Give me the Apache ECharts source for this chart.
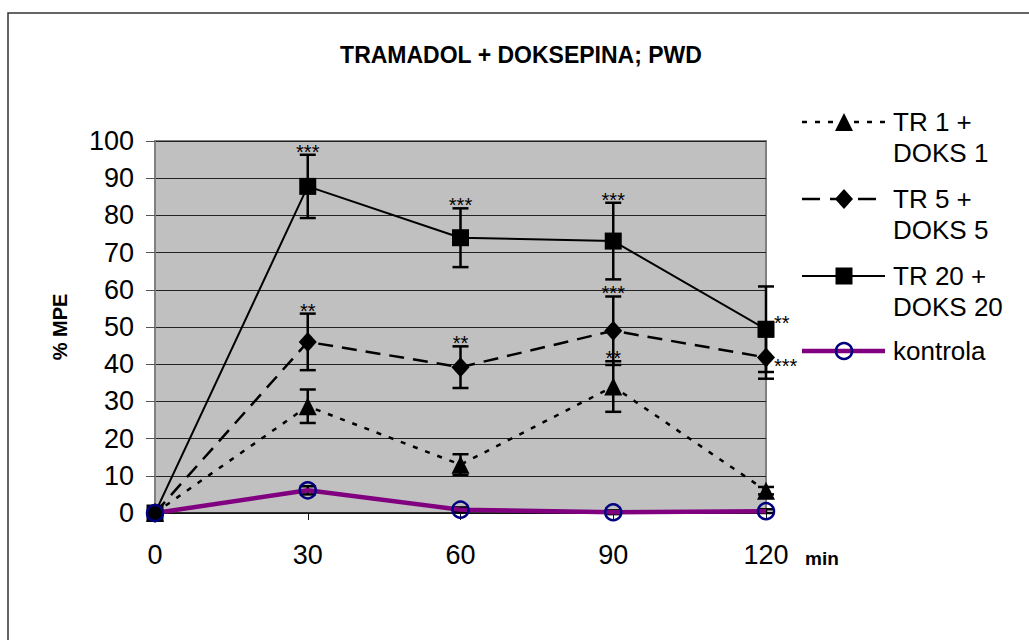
<!DOCTYPE html>
<html>
<head>
<meta charset="utf-8">
<title>TRAMADOL + DOKSEPINA; PWD</title>
<script src="https://cdn.jsdelivr.net/npm/echarts@6/dist/echarts.min.js"></script>
<style>
  html, body { margin: 0; padding: 0; background: #fff; }
  #chart { width: 1029px; height: 640px; }
</style>
</head>
<body>
<div id="chart"></div>
<script>
// Time points (min)
const times = [0, 30, 60, 90, 120];

// %MPE means and error half-widths per group
const tr1 = [0, 28.7, 13.0, 34.0, 6.0];
const tr1Err = [0, 4.5, 2.8, 6.8, 1.0];
const tr5 = [0, 46.0, 39.2, 49.0, 41.8];
const tr5Err = [0, 7.6, 5.6, 9.2, 5.7];
const tr20 = [0, 87.8, 74.0, 73.1, 49.4];
const tr20Err = [0, 8.5, 7.9, 10.3, 11.5];
const kontrola = [0, 6.1, 0.9, 0.2, 0.5];
const kontrolaErr = [0, 1.1, 0.6, 0.5, 0.5];

// Significance marks
const tr1Stars = ['', '', '', '**', ''];
const tr5Stars = ['', '**', '**', '***', '***'];
const tr20Stars = ['', '***', '***', '***', '**'];

// Tick labels
const yTicks = [0, 10, 20, 30, 40, 50, 60, 70, 80, 90, 100];
const xTicks = times;

const FONT = "'Liberation Sans', Arial, Helvetica, sans-serif";

const pts = (vals) => times.map((t, i) => [t, vals[i]]);
const errPts = (vals, errs) => times.map((t, i) => [t, vals[i], errs[i]]);

function errRender(params, api) {
  const x = api.value(0), v = api.value(1), e = api.value(2);
  if (!(e > 0)) return null;
  const hi = api.coord([x, v + e]);
  const lo = api.coord([x, v - e]);
  const cap = 8;
  const st = { stroke: '#000', lineWidth: 2.5 };
  return {
    type: 'group',
    children: [
      { type: 'line', shape: { x1: hi[0], y1: hi[1], x2: lo[0], y2: lo[1] }, style: st },
      { type: 'line', shape: { x1: hi[0] - cap, y1: hi[1], x2: hi[0] + cap, y2: hi[1] }, style: st },
      { type: 'line', shape: { x1: lo[0] - cap, y1: lo[1], x2: lo[0] + cap, y2: lo[1] }, style: st }
    ]
  };
}

// Stars sit above the upper error cap; on the last time point they go to the right of the marker
function starRender(stars, sideDy) {
  return function (params, api) {
    const s = stars[params.dataIndex];
    if (!s) return null;
    const x = api.value(0), v = api.value(1), e = api.value(2);
    const isLast = params.dataIndex === times.length - 1;
    let px, py, align;
    if (isLast) {
      const p = api.coord([x, v]);
      px = p[0] + 8; py = p[1] + sideDy + 5; align = 'left';
    } else {
      const p = api.coord([x, v + e]);
      px = p[0]; py = p[1] - 3; align = 'center';
    }
    return {
      type: 'text', x: px, y: py, z2: 10,
      style: {
        text: s, fontSize: 20, fontFamily: FONT, fill: '#000',
        align: align, textAlign: align, verticalAlign: 'middle', textVerticalAlign: 'middle'
      }
    };
  };
}

const errSeries = (vals, errs) => ({
  type: 'custom', renderItem: errRender, data: errPts(vals, errs),
  encode: { x: 0, y: 1 }, silent: true
});
const starSeries = (vals, errs, stars, dy) => ({
  type: 'custom', renderItem: starRender(stars, dy), data: errPts(vals, errs),
  encode: { x: 0, y: 1 }, silent: true, z: 5
});

// Legend, drawn as graphic elements
const LX1 = 802, LX2 = 885, LMX = 844, LTX = 893;
function legendItem(y, line, marker, label) {
  const els = [{
    type: 'line', shape: { x1: LX1, y1: y, x2: LX2, y2: y },
    style: { stroke: line.color, lineWidth: line.width, lineDash: line.dash || null }
  }];
  if (marker === 'triangle') {
    els.push({ type: 'polygon', shape: { points: [[LMX, y - 9], [LMX + 9, y + 9], [LMX - 9, y + 9]] }, style: { fill: '#000' } });
  } else if (marker === 'diamond') {
    els.push({ type: 'polygon', shape: { points: [[LMX, y - 10], [LMX + 9, y], [LMX, y + 10], [LMX - 9, y]] }, style: { fill: '#000' } });
  } else if (marker === 'rect') {
    els.push({ type: 'rect', shape: { x: LMX - 8.5, y: y - 8.5, width: 17, height: 17 }, style: { fill: '#000' } });
  } else if (marker === 'circle') {
    els.push({ type: 'circle', shape: { cx: LMX, cy: y, r: 8 }, style: { fill: 'none', stroke: '#000080', lineWidth: 2.5 } });
  }
  els.push({
    type: 'text', x: LTX, y: y - 15.5,
    style: {
      text: label, fontSize: 26, fontFamily: FONT, fill: '#000', lineHeight: 31,
      align: 'left', textAlign: 'left', verticalAlign: 'top', textVerticalAlign: 'top'
    }
  });
  return els;
}

const legendEls = [].concat(
  legendItem(122, { color: '#000', width: 2.5, dash: [5, 8] }, 'triangle', 'TR 1 +\nDOKS 1'),
  legendItem(199, { color: '#000', width: 2.5, dash: [18, 10] }, 'diamond', 'TR 5 +\nDOKS 5'),
  legendItem(276, { color: '#000', width: 2 }, 'rect', 'TR 20 +\nDOKS 20'),
  legendItem(351, { color: '#800080', width: 4.5 }, 'circle', 'kontrola')
);

const chart = echarts.init(document.getElementById('chart'), null, { renderer: 'svg' });

chart.setOption({
  animation: false,
  backgroundColor: '#fff',
  grid: {
    left: 155, right: 263, top: 141, bottom: 127,
    show: true, backgroundColor: '#C0C0C0', borderColor: '#808080', borderWidth: 2
  },
  xAxis: {
    type: 'value', min: xTicks[0], max: xTicks[xTicks.length - 1], interval: 30,
    axisLine: { onZero: false, lineStyle: { color: '#111', width: 1.5 } },
    axisTick: { length: 7, lineStyle: { color: '#111', width: 1 } },
    axisLabel: { margin: 28, fontSize: 27, color: '#000', fontFamily: FONT },
    splitLine: { show: false }
  },
  yAxis: {
    type: 'value', min: yTicks[0], max: yTicks[yTicks.length - 1], interval: 10,
    name: '% MPE', nameLocation: 'middle', nameGap: 85, nameRotate: 90,
    nameTextStyle: { fontWeight: 'bold', fontSize: 20, color: '#000', fontFamily: FONT },
    axisLine: { show: true, lineStyle: { color: '#808080', width: 2 } },
    axisTick: { show: true, length: 9, lineStyle: { color: '#555', width: 1 } },
    axisLabel: { margin: 21, fontSize: 27, color: '#000', fontFamily: FONT },
    splitLine: { show: true, lineStyle: { color: '#222', width: 1 } }
  },
  graphic: [
    {
      type: 'rect', shape: { x: 8, y: 13, width: 1100, height: 700 },
      style: { fill: 'none', stroke: '#333', lineWidth: 1.5 }, z: -10, silent: true
    },
    {
      type: 'text', x: 521, y: 55,
      style: {
        text: 'TRAMADOL + DOKSEPINA; PWD', fontSize: 23, fontWeight: 'bold', fontFamily: FONT, fill: '#000',
        align: 'center', textAlign: 'center', verticalAlign: 'middle', textVerticalAlign: 'middle'
      }
    },
    {
      type: 'text', x: 805, y: 558,
      style: {
        text: 'min', fontSize: 19, fontWeight: 'bold', fontFamily: FONT, fill: '#000',
        align: 'left', textAlign: 'left', verticalAlign: 'middle', textVerticalAlign: 'middle'
      }
    }
  ].concat(legendEls),
  series: [
    errSeries(tr1, tr1Err),
    {
      name: 'TR 1 + DOKS 1', type: 'line', data: pts(tr1),
      symbol: 'triangle', symbolSize: 18, showAllSymbol: true,
      lineStyle: { color: '#000', width: 2.5, type: [5, 8] },
      itemStyle: { color: '#000' }
    },
    errSeries(tr5, tr5Err),
    {
      name: 'TR 5 + DOKS 5', type: 'line', data: pts(tr5),
      symbol: 'diamond', symbolSize: [18, 20], showAllSymbol: true,
      lineStyle: { color: '#000', width: 2.5, type: [15, 9] },
      itemStyle: { color: '#000' }
    },
    errSeries(tr20, tr20Err),
    {
      name: 'TR 20 + DOKS 20', type: 'line', data: pts(tr20),
      symbol: 'rect', symbolSize: 17, showAllSymbol: true,
      lineStyle: { color: '#000', width: 2 },
      itemStyle: { color: '#000' }
    },
    {
      name: 'kontrola', type: 'line', data: pts(kontrola),
      symbol: 'circle', symbolSize: 16, showAllSymbol: true,
      lineStyle: { color: '#800080', width: 4.5 },
      itemStyle: { color: 'rgba(0,0,0,0)', borderColor: '#000080', borderWidth: 2.5 }
    },
    errSeries(kontrola, kontrolaErr),
    starSeries(tr1, tr1Err, tr1Stars, 0),
    starSeries(tr5, tr5Err, tr5Stars, 3),
    starSeries(tr20, tr20Err, tr20Stars, -11)
  ]
});
</script>
</body>
</html>
